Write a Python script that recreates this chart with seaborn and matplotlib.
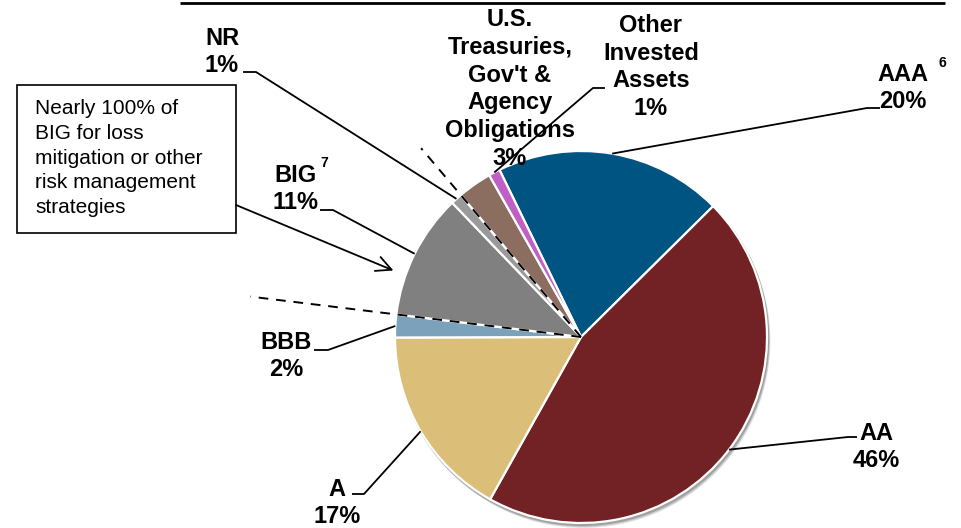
import numpy as np
import matplotlib
matplotlib.use("Agg")
import matplotlib.pyplot as plt
from matplotlib.patches import Rectangle, Circle
import seaborn as sns

# Portfolio composition by rating
categories = ["AAA", "AA", "A", "BBB", "BIG", "NR",
              "U.S. Treasuries, Gov't & Agency Obligations",
              "Other Invested Assets"]
shares = [20, 46, 17, 2, 11, 1, 3, 1]
colors = ["#005482", "#722224", "#DBBE78", "#7CA2BB", "#808080",
          "#9A9A9A", "#8B6E5F", "#C060C4"]

sns.set_theme(style="white")
plt.rcParams["font.family"] = ["Liberation Sans", "DejaVu Sans"]

W, H = 961, 528
fig = plt.figure(figsize=(W / 100, H / 100), dpi=100)
ax = fig.add_axes([0, 0, 1, 1])


def P(x, y):
    """Pixel position (origin top-left) to data coordinates."""
    return x, H - y


CX, CY = P(581, 337)
R = 186
START = 116

# soft shadow under the pie
for off, a in [(4, 0.10), (3, 0.14), (2, 0.18)]:
    ax.add_patch(Circle((CX + off * 0.6, CY - off), R + 1, color="black",
                        alpha=a, lw=0, zorder=0))

wedges, _ = ax.pie(shares, colors=colors, startangle=START, counterclock=False,
                   center=(CX, CY), radius=R,
                   wedgeprops=dict(edgecolor="white", linewidth=1.6))
for w in wedges:
    w.set_zorder(2)


def rim(idx, frac=0.5, scale=1.0):
    w = wedges[idx]
    t1, t2 = w.theta1, w.theta2
    t = np.deg2rad(t1 + (t2 - t1) * frac)
    return CX + R * scale * np.cos(t), CY + R * scale * np.sin(t)


def ray(angle_deg, scale):
    t = np.deg2rad(angle_deg)
    return [CX, CX + R * scale * np.cos(t)], [CY, CY + R * scale * np.sin(t)]


# dashed rays bracketing the below-investment-grade slices
big = wedges[4]
nr = wedges[5]
xs, ys = ray(big.theta2, 1.79)
ax.plot(xs, ys, ls=(0, (5, 4)), color="black", lw=1.4, zorder=4)
xs, ys = ray(nr.theta1, 1.33)
ax.plot(xs, ys, ls=(0, (5, 4)), color="black", lw=1.4, zorder=4)


def leader(idx, pts, frac=0.5):
    ax_, ay_ = rim(idx, frac)
    xs = [ax_] + [P(*p)[0] for p in pts]
    ys = [ay_] + [P(*p)[1] for p in pts]
    ax.plot(xs, ys, color="black", lw=1.3, zorder=5, solid_capstyle="butt")


lab = dict(fontsize=17, fontweight="bold", ha="center", va="center",
           color="black", zorder=6, linespacing=1.27)
sup = dict(fontsize=10, fontweight="bold", ha="center", va="center",
           color="black", zorder=6)

# slice labels with leader lines
ax.text(*P(222, 52), "NR\n1%", **lab)
leader(5, [(256, 72), (243, 72)])

ax.text(*P(296, 189), "BIG\n11%", **lab)
ax.text(*P(324, 163), "7", **sup)
leader(4, [(333, 210), (320, 210)])

ax.text(*P(286, 356), "BBB\n2%", **lab)
leader(3, [(328, 350), (314, 350)])

ax.text(*P(337, 503), "A\n17%", **lab)
leader(2, [(364, 494), (352, 494)])

ax.text(*P(876, 447), "AA\n46%", **lab)
leader(1, [(848, 437), (857, 437)])

ax.text(*P(903, 88), "AAA\n20%", **lab)
ax.text(*P(942, 63), "6", **sup)
leader(0, [(867, 108), (880, 108)])

ax.text(*P(510, 89), "U.S.\nTreasuries,\nGov't &\nAgency\nObligations\n3%", **lab)

ax.text(*P(651, 67), "Other\nInvested\nAssets\n1%", **lab)
leader(7, [(593, 88), (605, 88)])

# callout box about BIG usage
bx0, by0 = P(17, 233)
ax.add_patch(Rectangle((bx0, by0), 219, 148, fill=False, edgecolor="black",
                       lw=1.2, zorder=6))
ax.text(*P(35, 158), "Nearly 100% of\nBIG for loss\nmitigation or other\n"
        "risk management\nstrategies", fontsize=15, ha="left", va="center",
        linespacing=1.37, color="black", zorder=7)
tip = rim(4, 0.68, 1.07)
ax.annotate("", xy=tip, xytext=P(236, 205),
            arrowprops=dict(arrowstyle="->,head_length=0.9,head_width=0.45",
                            color="black", lw=1.3, shrinkA=0, shrinkB=0),
            zorder=7)

# rule along the top edge
ax.plot([P(180, 3)[0], P(945, 3)[0]], [P(180, 3)[1]] * 2, color="black",
        lw=2, zorder=6, solid_capstyle="butt")

ax.set_xlim(0, W)
ax.set_ylim(0, H)
ax.set_aspect("equal")
ax.axis("off")

fig.savefig("out.png", dpi=100, facecolor="white")
